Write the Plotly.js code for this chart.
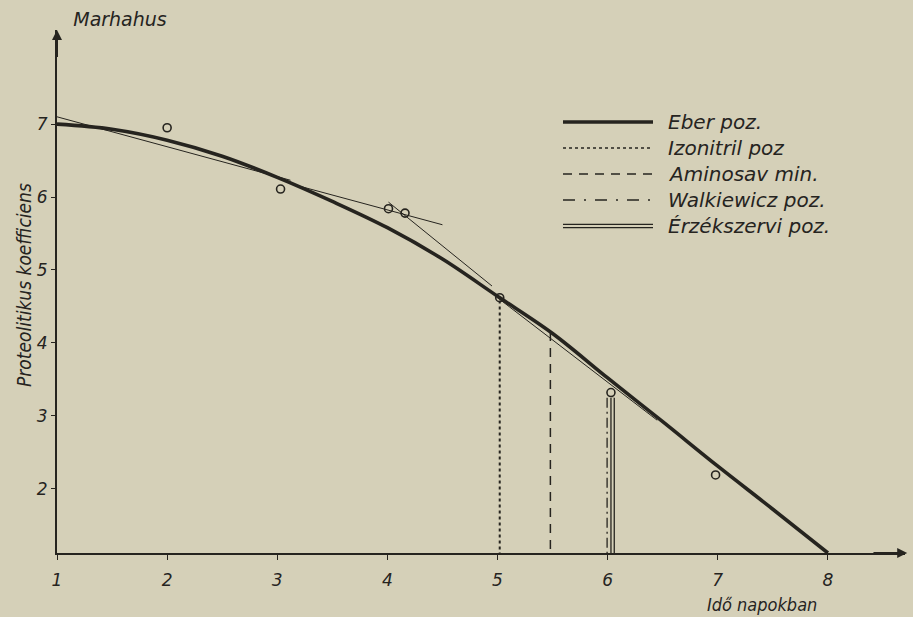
<!DOCTYPE html>
<html>
<head>
<meta charset="utf-8">
<script src="https://cdn.plot.ly/plotly-3.0.1.min.js"></script>
<style>
html,body{margin:0;padding:0;background:#d5d0b8;}
#chart{width:913px;height:617px;}
</style>
</head>
<body>
<div id="chart"></div>
<script>
// ---- data ----
const xTicks = [1, 2, 3, 4, 5, 6, 7, 8];
const yTicks = [2, 3, 4, 5, 6, 7];
const seriesNames = ["Eber poz.", "Izonitril poz", "Aminosav min.", "Walkiewicz poz.", "Érzékszervi poz."];

const eberX = [1, 1.5, 2, 2.5, 3, 3.5, 4, 4.5, 5, 5.5, 6, 6.5, 7, 7.5, 8];
const eberY = [7.0, 6.93, 6.78, 6.56, 6.27, 5.94, 5.58, 5.15, 4.64, 4.13, 3.52, 2.92, 2.31, 1.72, 1.12];

const fitX = [1, 3.12, null, 3.2, 4.5, null, 4.01, 4.95, null, 5.0, 6.45];
const fitY = [7.1, 6.23, null, 6.15, 5.62, null, 5.93, 4.78, null, 4.62, 2.94];

const pointX = [2.0, 3.03, 4.01, 4.16, 5.02, 6.03, 6.98];
const pointY = [6.95, 6.11, 5.84, 5.78, 4.62, 3.32, 2.19];

const izonitrilX = [5.02, 5.02];
const izonitrilY = [4.58, 1.12];
const aminosavX = [5.48, 5.48];
const aminosavY = [4.15, 1.12];
const walkiewiczX = [5.995, 5.995];
const walkiewiczY = [3.25, 1.12];
const erzekX = [6.045, 6.045];
const erzekY = [3.25, 1.12];

// ---- style ----
const ink = '#26241f';
const bg = '#d5d0b8';
const fnt = {family: 'DejaVu Sans, sans-serif', color: ink, style: 'italic'};
const fntC = {family: 'DejaVu Sans Condensed, DejaVu Sans, sans-serif', color: ink, style: 'italic'};

const traces = [
  {x: fitX, y: fitY, mode: 'lines', line: {color: ink, width: 1}, showlegend: false, hoverinfo: 'skip'},
  {x: eberX, y: eberY, mode: 'lines', name: seriesNames[0], line: {color: ink, width: 3.6, shape: 'spline', smoothing: 1}, showlegend: false},
  {x: izonitrilX, y: izonitrilY, mode: 'lines', name: seriesNames[1], line: {color: ink, width: 2, dash: 'dot'}, showlegend: false},
  {x: aminosavX, y: aminosavY, mode: 'lines', name: seriesNames[2], line: {color: ink, width: 1.5, dash: '9px,7px'}, showlegend: false},
  {x: walkiewiczX, y: walkiewiczY, mode: 'lines', name: seriesNames[3], line: {color: ink, width: 1.3, dash: '10px,4px,2px,4px'}, showlegend: false},
  {x: erzekX, y: erzekY, mode: 'lines', name: seriesNames[4], line: {color: ink, width: 4.6}, showlegend: false},
  {x: erzekX, y: erzekY, mode: 'lines', line: {color: bg, width: 2}, showlegend: false, hoverinfo: 'skip'},
  {x: pointX, y: pointY, mode: 'markers', marker: {symbol: 'circle-open', size: 8, color: ink, line: {width: 1.6, color: ink}}, showlegend: false}
];

// ---- hand-made legend (pixel -> paper) ----
const L = 57, R = 905, T = 30, B = 553;
const px = v => (v - L) / (R - L);
const py = v => (B - v) / (B - T);
const legendRows = [122, 148, 174, 200, 226];
const legendStyles = [
  {width: 3.6, dash: 'solid'},
  {width: 1.5, dash: 'dot'},
  {width: 1.6, dash: '9px,7px'},
  {width: 1.4, dash: '12px,9px,2px,9px'},
  null
];
const shapes = [];
const annotations = [];
legendRows.forEach((yy, i) => {
  if (legendStyles[i]) {
    shapes.push({type: 'line', xref: 'paper', yref: 'paper', x0: px(563), x1: px(653), y0: py(yy), y1: py(yy),
      line: {color: ink, width: legendStyles[i].width, dash: legendStyles[i].dash}});
  } else {
    shapes.push({type: 'line', xref: 'paper', yref: 'paper', x0: px(563), x1: px(653), y0: py(yy), y1: py(yy),
      line: {color: ink, width: 4.6}});
    shapes.push({type: 'line', xref: 'paper', yref: 'paper', x0: px(562), x1: px(654), y0: py(yy), y1: py(yy),
      line: {color: bg, width: 2}});
  }
  annotations.push({xref: 'paper', yref: 'paper', x: px(666), y: py(yy), xanchor: 'left', yanchor: 'middle',
    text: seriesNames[i], showarrow: false, font: Object.assign({}, fnt, {size: 20})});
});

// axis titles (placed as in the original)
annotations.push({xref: 'paper', yref: 'paper', x: px(762), y: py(604), xanchor: 'center', yanchor: 'middle',
  text: 'Idő napokban', showarrow: false, font: Object.assign({}, fntC, {size: 18})});
annotations.push({xref: 'paper', yref: 'paper', x: px(24), y: py(285), xanchor: 'center', yanchor: 'middle',
  textangle: -90, text: 'Proteolitikus koefficiens', showarrow: false, font: Object.assign({}, fntC, {size: 19})});

// axis arrows
annotations.push({x: 1, y: 8.29, ax: 1, ay: 7.9, xref: 'x', yref: 'y', axref: 'x', ayref: 'y',
  text: '', showarrow: true, arrowhead: 2, arrowsize: 1, arrowwidth: 2, arrowcolor: ink});
annotations.push({x: 8.72, y: 1.12, ax: 8.4, ay: 1.12, xref: 'x', yref: 'y', axref: 'x', ayref: 'y',
  text: '', showarrow: true, arrowhead: 2, arrowsize: 1, arrowwidth: 2, arrowcolor: ink});

const layout = {
  width: 913, height: 617,
  paper_bgcolor: bg, plot_bgcolor: bg,
  margin: {l: L, r: 913 - R, t: T, b: 617 - B},
  showlegend: false,
  title: {text: 'Marhahus', x: 120 / 913, xref: 'container', xanchor: 'center', y: 1 - 19 / 617, yanchor: 'middle',
    font: Object.assign({}, fnt, {size: 19})},
  xaxis: {
    range: [1, 8.70], tickvals: xTicks, ticktext: xTicks.map(String),
    showgrid: false, zeroline: false, showline: true, linecolor: ink, linewidth: 2,
    ticks: 'outside', ticklen: 5, tickwidth: 1, tickcolor: ink, ticklabelstandoff: 6,
    tickfont: Object.assign({}, fnt, {size: 17})
  },
  yaxis: {
    range: [1.12, 8.29], tickvals: yTicks, ticktext: yTicks.map(String),
    showgrid: false, zeroline: false, showline: true, linecolor: ink, linewidth: 2,
    ticks: 'outside', ticklen: 4, tickwidth: 1, tickcolor: ink,
    tickfont: Object.assign({}, fnt, {size: 17})
  },
  shapes: shapes,
  annotations: annotations
};

Plotly.newPlot('chart', traces, layout, {displayModeBar: false, staticPlot: true});
</script>
</body>
</html>
